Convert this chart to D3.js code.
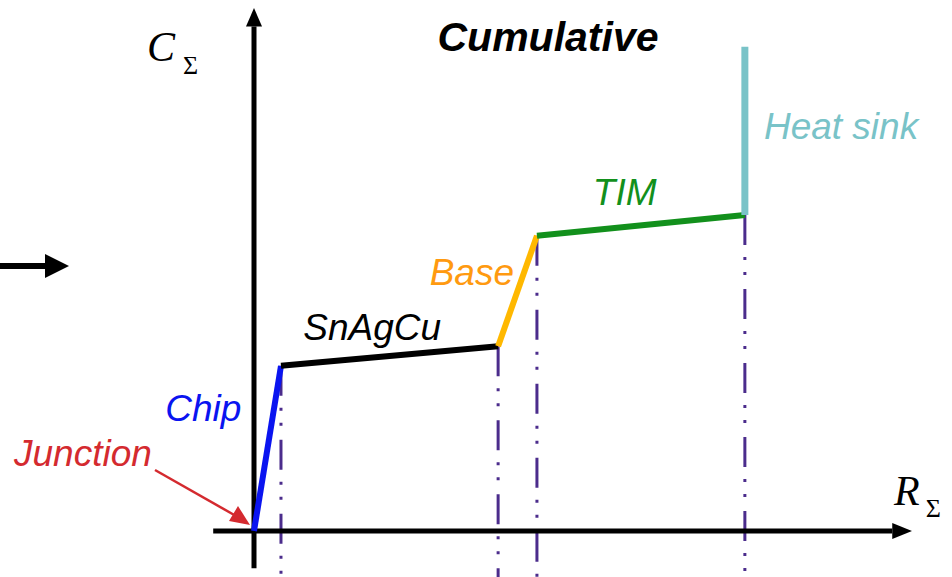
<!doctype html>
<html>
<head>
<meta charset="utf-8">
<script src="https://cdnjs.cloudflare.com/ajax/libs/d3/7.8.5/d3.min.js"></script>
<style>
  body { margin: 0; background: #fff; }
  svg { display: block; }
  .lbl { font-family: "Liberation Sans", Arial, sans-serif; font-style: italic; }
  .math { font-family: "Liberation Serif", "Times New Roman", serif; }
</style>
</head>
<body>
<script>
// cumulative structure function points (arbitrary units)
var layers   = ["Chip", "SnAgCu", "Base", "TIM", "Heat sink"];
var colors   = ["#0a14f0", "#000000", "#ffb800", "#12901c", "#79c3c8"];
var rSum     = [0, 0.41, 3.71, 4.30, 7.46, 7.46];
var cSum     = [0, 3.11, 3.48, 5.56, 5.95, 9.12];
// label anchors in the same units
var labelR   = [-1.35, 0.75, 2.67, 5.15, 7.75];
var labelC   = [2.07, 3.6, 4.63, 6.14, 7.38];
var labelClr = ["#0a14f0", "#000000", "#ff9a10", "#12901c", "#79c3c8"];

var width = 952, height = 577;

var x = d3.scaleLinear().domain([0, 10]).range([254, 912]);
var y = d3.scaleLinear().domain([0, 10]).range([531, 0]);

var svg = d3.select("body").append("svg")
    .attr("width", width)
    .attr("height", height);

// dash-dot drop lines
var drops = [1, 2, 3, 4];
svg.append("g").selectAll("line")
    .data(drops)
    .enter()
    .append("line")
    .attr("x1", d => x(rSum[d]))
    .attr("x2", d => x(rSum[d]))
    .attr("y1", d => y(cSum[d]))
    .attr("y2", height)
    .attr("stroke", "#4b2c8c")
    .attr("stroke-width", 3)
    .attr("stroke-dasharray", "30,12,3,12,3,14");

// axes
svg.append("line")
    .attr("x1", x(-0.62)).attr("x2", x(9.7))
    .attr("y1", y(0)).attr("y2", y(0))
    .attr("stroke", "#000").attr("stroke-width", 5);
svg.append("path")
    .attr("d", "M" + x(9.7) + "," + (y(0) - 8) + " L" + x(10) + "," + y(0) + " L" + x(9.7) + "," + (y(0) + 8) + "Z")
    .attr("fill", "#000");

svg.append("line")
    .attr("x1", x(0)).attr("x2", x(0))
    .attr("y1", y(-0.7)).attr("y2", y(9.5))
    .attr("stroke", "#000").attr("stroke-width", 5);
svg.append("path")
    .attr("d", "M" + (x(0) - 8) + "," + y(9.5) + " L" + x(0) + "," + y(9.85) + " L" + (x(0) + 8) + "," + y(9.5) + "Z")
    .attr("fill", "#000");

// curve segments
svg.append("g").selectAll("line")
    .data(layers)
    .enter()
    .append("line")
    .attr("x1", (d, i) => x(rSum[i]))
    .attr("y1", (d, i) => y(cSum[i]))
    .attr("x2", (d, i) => x(rSum[i + 1]))
    .attr("y2", (d, i) => y(cSum[i + 1]))
    .attr("stroke", (d, i) => colors[i])
    .attr("stroke-width", (d, i) => i == 4 ? 7 : 6);

// layer labels
svg.append("g").selectAll("text")
    .data(layers)
    .enter()
    .append("text")
    .attr("class", "lbl")
    .attr("x", (d, i) => x(labelR[i]))
    .attr("y", (d, i) => y(labelC[i]))
    .attr("fill", (d, i) => labelClr[i])
    .attr("font-size", 37)
    .text(d => d);

// junction label + arrow
svg.append("text")
    .attr("class", "lbl")
    .attr("x", 14).attr("y", 466)
    .attr("fill", "#d42a2f")
    .attr("font-size", 37)
    .text("Junction");
svg.append("line")
    .attr("x1", 155).attr("y1", 470)
    .attr("x2", 236).attr("y2", 516)
    .attr("stroke", "#d42a2f").attr("stroke-width", 2.5);
svg.append("path")
    .attr("d", "M250,525 L229,521 L238,506 Z")
    .attr("fill", "#d42a2f");

// title
svg.append("text")
    .attr("class", "lbl")
    .attr("x", 548).attr("y", 51)
    .attr("text-anchor", "middle")
    .attr("font-weight", "bold")
    .attr("font-size", 41)
    .text("Cumulative");

// axis names
var cLab = svg.append("text").attr("class", "math").attr("x", 147).attr("y", 61);
cLab.append("tspan").attr("font-style", "italic").attr("font-size", 42).text("C");
cLab.append("tspan").attr("dx", 8).attr("dy", 13).attr("font-size", 26).text("Σ");

var rLab = svg.append("text").attr("class", "math").attr("x", 894).attr("y", 505);
rLab.append("tspan").attr("font-style", "italic").attr("font-size", 42).text("R");
rLab.append("tspan").attr("dx", 6).attr("dy", 12).attr("font-size", 26).text("Σ");

// leading arrow on the left
svg.append("line")
    .attr("x1", 0).attr("x2", 46)
    .attr("y1", 266).attr("y2", 266)
    .attr("stroke", "#000").attr("stroke-width", 6);
svg.append("path")
    .attr("d", "M45,254 L69,266 L45,278 Z")
    .attr("fill", "#000");
</script>
</body>
</html>
